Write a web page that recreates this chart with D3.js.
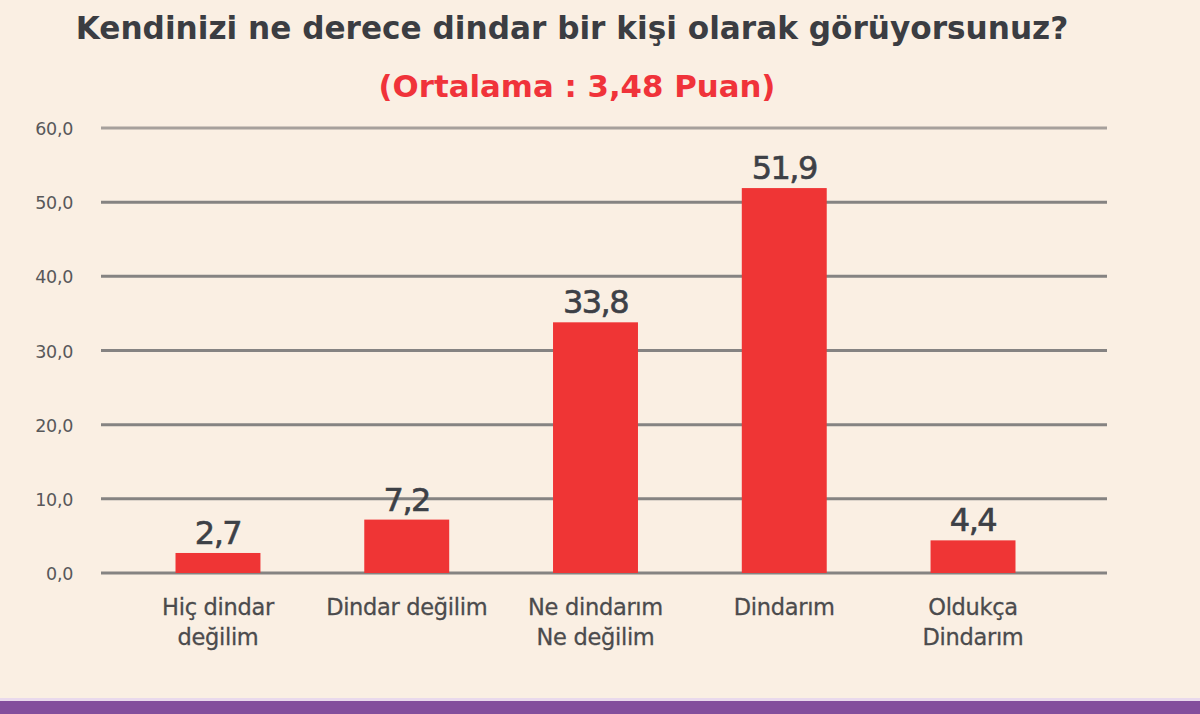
<!DOCTYPE html>
<html><head><meta charset="utf-8">
<script src="https://cdn.jsdelivr.net/npm/d3@7/dist/d3.min.js"></script>
<style>
html,body{margin:0;padding:0;background:#faefe3;}
svg{display:block;}
</style></head>
<body>
<svg id="chart" width="1200" height="714"></svg>
<script>
const titleText = "Kendinizi ne derece dindar bir kişi olarak görüyorsunuz?";
const subtitleText = "(Ortalama : 3,48 Puan)";
const categories = [["Hiç dindar","değilim"],["Dindar değilim"],["Ne dindarım","Ne değilim"],["Dindarım"],["Oldukça","Dindarım"]];
const values = [2.7, 7.2, 33.8, 51.9, 4.4];
const valueLabels = ["2,7","7,2","33,8","51,9","4,4"];
const yTicks = [0,10,20,30,40,50,60];
const yTickLabels = ["0,0","10,0","20,0","30,0","40,0","50,0","60,0"];

const svg = d3.select("#chart");
const font = "'DejaVu Sans', 'Open Sans', sans-serif";
svg.append("rect").attr("width",1200).attr("height",714).attr("fill","#faefe3");

const y = d3.scaleLinear().domain([0,60]).range([573,128]);
const x = d3.scaleBand().domain(d3.range(categories.length)).range([123.6,1067.4]).paddingInner(0.55).paddingOuter(0.275);

function fit(sel, target){
  const w = sel.node().getComputedTextLength();
  const fs = +sel.attr("font-size");
  sel.attr("font-size", fs*target/w);
}

// gridlines
const gridX0 = 101, gridX1 = 1107;
svg.append("g").selectAll("line").data(yTicks).join("line")
  .attr("x1",gridX0).attr("x2",gridX1)
  .attr("y1",d=>y(d)).attr("y2",d=>y(d))
  .attr("stroke",d=>d===60?"#a6a09c":"#858382").attr("stroke-width",3);

// y tick labels
svg.append("g").selectAll("text").data(yTicks).join("text")
  .attr("x",73).attr("y",d=>y(d)+7)
  .attr("text-anchor","end")
  .attr("font-family",font).attr("font-size",17.5)
  .attr("letter-spacing",-0.3)
  .attr("fill","#58585a")
  .text((d,i)=>yTickLabels[i]);

// bars
svg.append("g").selectAll("rect").data(values).join("rect")
  .attr("x",(d,i)=>x(i)).attr("width",x.bandwidth())
  .attr("y",d=>y(d)).attr("height",d=>y(0)-y(d))
  .attr("fill","#ef3535");

// value labels
svg.append("g").selectAll("text").data(values).join("text")
  .attr("x",(d,i)=>x(i)+x.bandwidth()/2).attr("y",d=>y(d)-9)
  .attr("text-anchor","middle")
  .attr("font-family",font).attr("font-size",32)
  .attr("letter-spacing",-1.5)
  .attr("fill","#3d4046")
  .attr("stroke","#3d4046").attr("stroke-width",0.6)
  .text((d,i)=>valueLabels[i]);

// category labels
const cg = svg.append("g").selectAll("text").data(categories).join("text")
  .attr("x",(d,i)=>x(i)+x.bandwidth()/2).attr("y",615)
  .attr("text-anchor","middle")
  .attr("font-family",font).attr("font-size",22.5)
  .attr("letter-spacing",-0.3)
  .attr("fill","#4b4b4d")
  .attr("stroke","#4b4b4d").attr("stroke-width",0.3);
cg.each(function(d){
  const t = d3.select(this);
  d.forEach((line,j)=>{
    t.append("tspan").attr("x",t.attr("x")).attr("dy",j===0?0:30).text(line);
  });
});

// title
const title = svg.append("text").attr("x",572).attr("y",39)
  .attr("text-anchor","middle")
  .attr("font-family",font).attr("font-size",28).attr("font-weight",700)
  .attr("fill","#3b3d42").text(titleText);
const sub = svg.append("text").attr("x",577).attr("y",97)
  .attr("text-anchor","middle")
  .attr("font-family",font).attr("font-size",31).attr("font-weight",700)
  .attr("fill","#f0333a").text(subtitleText);
fit(title, 993);
fit(sub, 397);

// bottom bar
svg.append("rect").attr("x",0).attr("y",698).attr("width",1200).attr("height",3).attr("fill","#e9d9ec");
svg.append("rect").attr("x",0).attr("y",701).attr("width",1200).attr("height",13).attr("fill","#834e9c");
</script>
</body></html>
